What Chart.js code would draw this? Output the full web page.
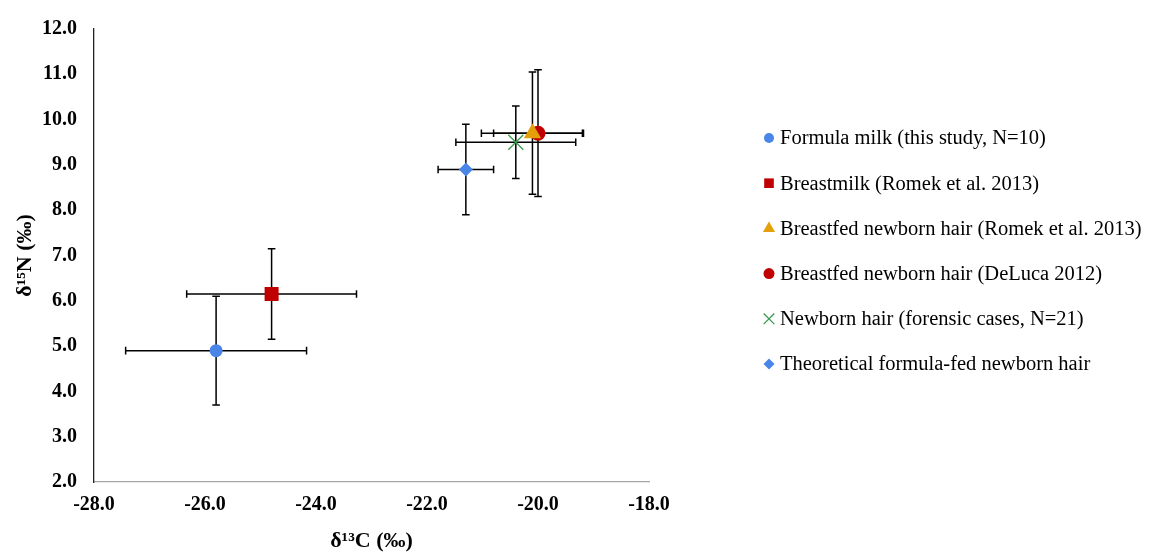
<!DOCTYPE html>
<html>
<head>
<meta charset="utf-8">
<script src="https://cdn.jsdelivr.net/npm/chart.js@4.4.1/dist/chart.umd.min.js"></script>
<style>
  html, body { margin: 0; padding: 0; background: #fff; }
  #caixa { width: 1157px; height: 555px; position: relative; }
</style>
</head>
<body>
<div id="caixa"><canvas id="graficoIsotopos"></canvas></div>
<script>
// dados
const series = [
  'Formula milk (this study, N=10)',
  'Breastmilk (Romek et al. 2013)',
  'Breastfed newborn hair (Romek et al. 2013)',
  'Breastfed newborn hair (DeLuca 2012)',
  'Newborn hair (forensic cases, N=21)',
  'Theoretical formula-fed newborn hair'
];
const d13C = [-25.8, -24.8, -20.1, -20.0, -20.4, -21.3];
const d15N = [4.9, 6.15, 9.7, 9.7, 9.5, 8.9];
const erroC = [1.63, 1.53, 0.92, 0.8, 1.08, 0.5];
const erroN = [1.2, 1.0, 1.35, 1.4, 0.8, 1.0];

const xTicks = [-28, -26, -24, -22, -20, -18];
const yTicks = [2, 3, 4, 5, 6, 7, 8, 9, 10, 11, 12];

const cores = ['#4a86e8', '#c00000', '#e3a008', '#c00000', '#3a9d4f', '#4a86e8'];
const estilos = ['circle', 'rect', 'triangle', 'circle', 'crossRot', 'rectRot'];
const raios = [6.5, 9.9, 10, 7.5, 10.6, 7];
const raiosLegenda = [5, 6.8, 7, 5.5, 7.5, 5.5];

const serif = '"Liberation Serif", "Times New Roman", serif';
const fonteEixo = { family: serif, size: 20, weight: 'bold' };
const fonteTitulo = { family: serif, size: 22, weight: 'bold' };

const barrasErro = {
  id: 'barrasErro',
  beforeDatasetsDraw(chart) {
    const { ctx, scales: { x, y } } = chart;
    const cap = 3.8;
    ctx.save();
    ctx.strokeStyle = '#000';
    ctx.lineWidth = 1.5;
    chart.data.datasets.forEach(ds => {
      const p = ds.data[0];
      const px = x.getPixelForValue(p.x);
      const py = y.getPixelForValue(p.y);
      const x0 = x.getPixelForValue(p.x - p.ex);
      const x1 = x.getPixelForValue(p.x + p.ex);
      const y0 = y.getPixelForValue(p.y - p.ey);
      const y1 = y.getPixelForValue(p.y + p.ey);
      ctx.beginPath();
      ctx.moveTo(x0, py); ctx.lineTo(x1, py);
      ctx.moveTo(x0, py - cap); ctx.lineTo(x0, py + cap);
      ctx.moveTo(x1, py - cap); ctx.lineTo(x1, py + cap);
      ctx.moveTo(px, y0); ctx.lineTo(px, y1);
      ctx.moveTo(px - cap, y0); ctx.lineTo(px + cap, y0);
      ctx.moveTo(px - cap, y1); ctx.lineTo(px + cap, y1);
      ctx.stroke();
    });
    ctx.restore();
  }
};

const legendaLateral = {
  id: 'legendaLateral',
  afterDraw(chart) {
    const ctx = chart.ctx;
    const x0 = 769, yInicio = 138, passo = 45.2;
    ctx.save();
    ctx.font = '20.5px ' + serif;
    ctx.textBaseline = 'middle';
    chart.data.datasets.forEach((ds, i) => {
      const yy = yInicio + i * passo;
      ctx.fillStyle = ds.backgroundColor;
      ctx.strokeStyle = ds.borderColor;
      ctx.lineWidth = ds.borderWidth;
      Chart.helpers.drawPoint(ctx, { pointStyle: ds.pointStyle, radius: raiosLegenda[i], rotation: 0, borderWidth: ds.borderWidth }, x0, yy);
      ctx.fillStyle = '#000';
      ctx.fillText(ds.label, x0 + 11, yy + 1);
    });
    ctx.restore();
  }
};

const datasets = series.map((nome, i) => ({
  label: nome,
  data: [{ x: d13C[i], y: d15N[i], ex: erroC[i], ey: erroN[i] }],
  pointStyle: estilos[i],
  pointRadius: raios[i],
  pointHoverRadius: raios[i],
  backgroundColor: cores[i],
  borderColor: cores[i],
  borderWidth: estilos[i] === 'crossRot' ? 1.3 : 0
}));

window.graficoIsotopos = new Chart(document.getElementById('graficoIsotopos'), {
  type: 'scatter',
  data: { datasets },
  options: {
    responsive: true,
    maintainAspectRatio: false,
    animation: false,
    layout: { padding: { left: 8, right: 508, top: 23, bottom: 0 } },
    plugins: { legend: { display: false }, tooltip: { enabled: false } },
    scales: {
      x: {
        type: 'linear', min: -28, max: -18,
        afterBuildTicks: s => { s.ticks = xTicks.map(v => ({ value: v })); },
        afterFit: s => { s.height = 73; },
        grid: { display: false, drawTicks: false },
        border: { display: true, color: '#a6a6a6', width: 1.3 },
        ticks: { color: '#000', font: fonteEixo, padding: 11, callback: v => v.toFixed(1), maxRotation: 0 },
        title: { display: true, text: 'δ¹³C (‰)', color: '#000', font: fonteTitulo, padding: { top: 6, bottom: 0 } }
      },
      y: {
        type: 'linear', min: 2, max: 12,
        afterBuildTicks: s => { s.ticks = yTicks.map(v => ({ value: v })); },
        afterFit: s => { s.width = 86; },
        grid: { display: false, drawTicks: false },
        border: { display: true, color: '#222', width: 1.3 },
        ticks: { color: '#000', font: fonteEixo, padding: 17, callback: v => v.toFixed(1) },
        title: { display: true, text: 'δ¹⁵N (‰)', color: '#000', font: fonteTitulo, padding: { top: 4, bottom: 4 } }
      }
    }
  },
  plugins: [barrasErro, legendaLateral]
});
</script>
</body>
</html>
